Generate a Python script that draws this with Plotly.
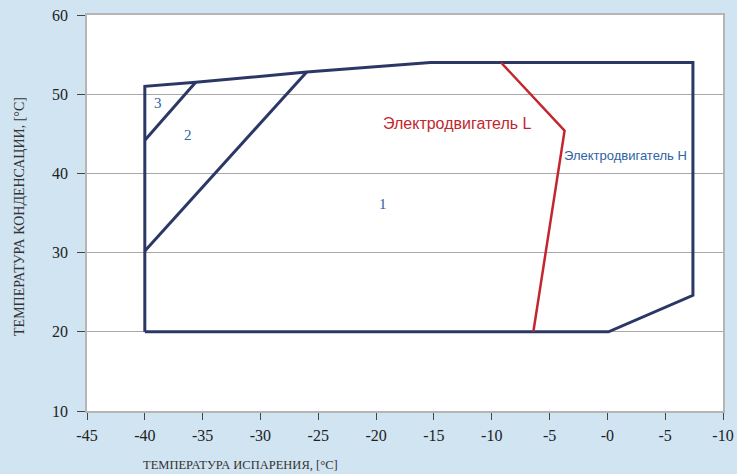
import plotly.graph_objects as go

# Data
envelope_x = [-40, -40, -35.6, -26.0, -15.3, 7.4, 7.4, 0.1, -40]
envelope_y = [20, 51, 51.5, 52.8, 54, 54, 24.6, 20, 20]
zone2_x = [-40, -26.0]
zone2_y = [30.2, 52.8]
zone3_x = [-40, -35.6]
zone3_y = [44.2, 51.5]
motorL_x = [-9.2, -3.7, -6.4]
motorL_y = [54, 45.4, 20]

x_tickvals = [-45, -40, -35, -30, -25, -20, -15, -10, -5, 0, 5, 10]
x_ticktext = ["-45", "-40", "-35", "-30", "-25", "-20", "-15", "-10", "-5", "-0", "-5", "-10"]
y_tickvals = [10, 20, 30, 40, 50, 60]

zone_labels = ["1", "2", "3"]
zone_label_x = [-19.4, -36.3, -38.9]
zone_label_y = [36.2, 44.9, 48.9]

navy = "#2b3866"
red = "#c3262e"
blue_txt = "#2e63a3"
serif = "Liberation Serif"
sans = "Liberation Sans"

fig = go.Figure()
for xs, ys in [(envelope_x, envelope_y), (zone2_x, zone2_y), (zone3_x, zone3_y)]:
    fig.add_trace(go.Scatter(x=xs, y=ys, mode="lines",
                             line=dict(color=navy, width=3), showlegend=False, hoverinfo="skip"))
fig.add_trace(go.Scatter(x=motorL_x, y=motorL_y, mode="lines",
                         line=dict(color=red, width=2.5), showlegend=False, hoverinfo="skip"))

for t, x, y in zip(zone_labels, zone_label_x, zone_label_y):
    fig.add_annotation(x=x, y=y, text=t, showarrow=False,
                       font=dict(family=serif, size=15, color=blue_txt))

fig.add_annotation(x=-13.0, y=46.3, text="Электродвигатель L", showarrow=False,
                   font=dict(family=sans, size=16, color=red))
fig.add_annotation(x=1.6, y=42.2, text="Электродвигатель H", showarrow=False,
                   font=dict(family=sans, size=13, color=blue_txt))

fig.add_annotation(xref="paper", yref="paper", x=0.241, y=0, yshift=-54,
                   xanchor="center", yanchor="middle",
                   text="ТЕМПЕРАТУРА ИСПАРЕНИЯ, [°C]", showarrow=False,
                   font=dict(family=serif, size=12.5, color="#333333"))
fig.add_annotation(xref="paper", yref="paper", x=0, y=0.49, xshift=-67, textangle=-90,
                   xanchor="center", yanchor="middle",
                   text="ТЕМПЕРАТУРА КОНДЕНСАЦИИ, [°C]", showarrow=False,
                   font=dict(family=serif, size=14, color="#333333"))

fig.update_layout(
    width=737, height=474,
    margin=dict(l=87, r=14, t=15, b=63),
    paper_bgcolor="#d0e4f1",
    plot_bgcolor="#ffffff",
    showlegend=False,
)
fig.update_xaxes(range=[-45, 10], tickvals=x_tickvals, ticktext=x_ticktext, automargin=False,
                 showgrid=False, zeroline=False, showline=True, linecolor="#b5b5b5",
                 linewidth=1.5, mirror=True, ticks="outside", ticklen=7, tickcolor="#444444",
                 ticklabelstandoff=2,
                 tickfont=dict(family=serif, size=16, color="#222222"))
fig.update_yaxes(range=[10, 60], tickvals=y_tickvals, automargin=False,
                 showgrid=True, gridcolor="#a8a8a8", gridwidth=1, zeroline=False,
                 showline=True, linecolor="#b5b5b5", linewidth=1.5, mirror=True,
                 ticks="outside", ticklen=8, tickcolor="#444444",
                 ticklabelstandoff=6,
                 tickfont=dict(family=serif, size=16, color="#222222"))

fig.write_html("out.html", config={"displayModeBar": False},
               post_script="document.body.style.margin='0';document.body.style.overflow='hidden';")
